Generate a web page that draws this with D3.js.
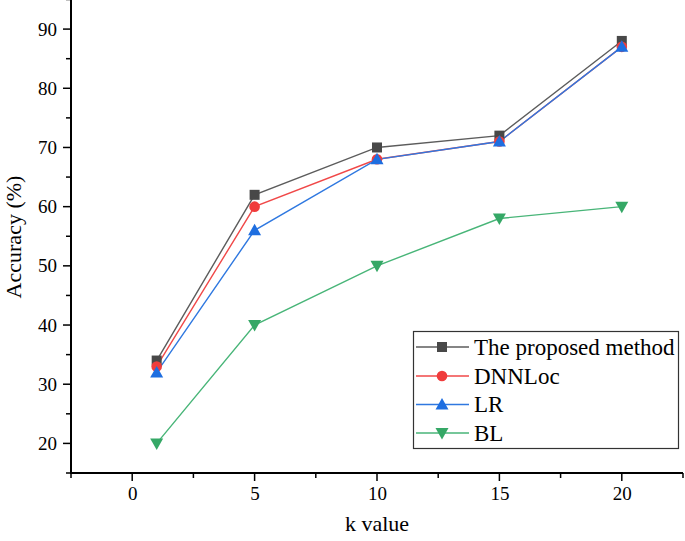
<!DOCTYPE html>
<html><head><meta charset="utf-8">
<script src="https://cdn.jsdelivr.net/npm/d3@7"></script>
<style>body{margin:0;background:#fff}svg{display:block}</style>
</head><body><svg id="c" width="685" height="541"></svg>
<script>
const kValues = [1, 5, 10, 15, 20];
const proposed = [34, 62, 70, 72, 88];
const dnnloc = [33, 60, 68, 71, 87];
const lr = [32, 56, 68, 71, 87];
const bl = [20, 40, 50, 58, 60];
const seriesNames = ["The proposed method", "DNNLoc", "LR", "BL"];
const xTicks = [0, 5, 10, 15, 20];
const yTicks = [20, 30, 40, 50, 60, 70, 80, 90];

const FONT = "'Liberation Serif', 'Times New Roman', serif";
const series = [
  {name: seriesNames[0], values: proposed, line: "#5c5c5c", fill: "#484848", shape: "square"},
  {name: seriesNames[1], values: dnnloc, line: "#f04848", fill: "#f03c3c", shape: "circle"},
  {name: seriesNames[2], values: lr, line: "#2f78e0", fill: "#1e6ee0", shape: "up"},
  {name: seriesNames[3], values: bl, line: "#48b578", fill: "#35a866", shape: "down"}
];

const svg = d3.select("#c");
const x = d3.scaleLinear().domain([-2.5, 22.5]).range([71, 683]);
const y = d3.scaleLinear().domain([15, 95]).range([473, -0.5]);

function marker(g, shape, cx, cy, fill) {
  if (shape === "square") g.append("rect").attr("x", cx-5).attr("y", cy-5).attr("width", 10).attr("height", 10).attr("fill", fill);
  else if (shape === "circle") g.append("circle").attr("cx", cx).attr("cy", cy).attr("r", 5.3).attr("fill", fill);
  else if (shape === "up") g.append("path").attr("d", `M${cx},${cy-6.5}L${cx+6.5},${cy+5}L${cx-6.5},${cy+5}Z`).attr("fill", fill);
  else g.append("path").attr("d", `M${cx},${cy+6.5}L${cx+6.5},${cy-5}L${cx-6.5},${cy-5}Z`).attr("fill", fill);
}

// axes
const xAxis = d3.axisBottom(x).tickValues(xTicks).tickSize(0).tickPadding(14).tickFormat(d3.format("d"));
const gx = svg.append("g").attr("transform", "translate(0,473)").call(xAxis).attr("font-family", FONT);
gx.select(".domain").attr("stroke", "#000").attr("stroke-width", 2).attr("d", `M71,0H683`);
gx.selectAll("text").attr("font-size", 19).attr("fill", "#000").attr("font-family", FONT);
const xMinor = d3.range(-2.5, 23, 2.5);
gx.selectAll(".mt").data(xMinor).enter().append("line")
  .attr("x1", d => x(d)).attr("x2", d => x(d)).attr("y1", 0)
  .attr("y2", d => (Math.abs(d % 5) < 0.01) ? 8 : 5)
  .attr("stroke", "#000").attr("stroke-width", 1.5);

const yAxis = d3.axisLeft(y).tickValues(yTicks).tickSize(0).tickPadding(14).tickFormat(d3.format("d"));
const gy = svg.append("g").attr("transform", "translate(71,0)").call(yAxis).attr("font-family", FONT);
gy.select(".domain").attr("stroke", "#000").attr("stroke-width", 2).attr("d", `M0,474V0`);
gy.selectAll("text").attr("font-size", 19).attr("fill", "#000").attr("font-family", FONT);
const yMinor = d3.range(15, 96, 5);
gy.selectAll(".mt").data(yMinor).enter().append("line")
  .attr("y1", d => y(d)).attr("y2", d => y(d)).attr("x1", 0)
  .attr("x2", d => (d % 10 === 0) ? -8 : -5)
  .attr("stroke", "#000").attr("stroke-width", 1.5);

svg.append("text").attr("x", 377).attr("y", 531).attr("text-anchor", "middle").attr("font-size", 22).attr("font-family", FONT).text("k value");
svg.append("text").attr("transform", "translate(21,237) rotate(-90)").attr("text-anchor", "middle").attr("font-size", 22).attr("font-family", FONT).text("Accuracy (%)");

// lines
const line = d3.line().x((d, i) => x(kValues[i])).y(d => y(d));
series.forEach(s => {
  svg.append("path").attr("d", line(s.values)).attr("fill", "none").attr("stroke", s.line).attr("stroke-width", 1.4);
});
series.forEach(s => {
  const g = svg.append("g");
  s.values.forEach((v, i) => marker(g, s.shape, x(kValues[i]), y(v), s.fill));
});

// legend
const lg = svg.append("g");
lg.append("rect").attr("x", 413.5).attr("y", 331.5).attr("width", 265).attr("height", 117).attr("fill", "#fff").attr("stroke", "#333").attr("stroke-width", 1.2);
const rows = [347, 376, 404.5, 433];
series.forEach((s, i) => {
  lg.append("line").attr("x1", 416).attr("x2", 469).attr("y1", rows[i]).attr("y2", rows[i]).attr("stroke", s.line).attr("stroke-width", 1.4);
  marker(lg, s.shape, 442, rows[i], s.fill);
  lg.append("text").attr("x", 474).attr("y", rows[i] + 7.5).attr("font-size", 23).attr("font-family", FONT).text(s.name);
});
</script></body></html>
